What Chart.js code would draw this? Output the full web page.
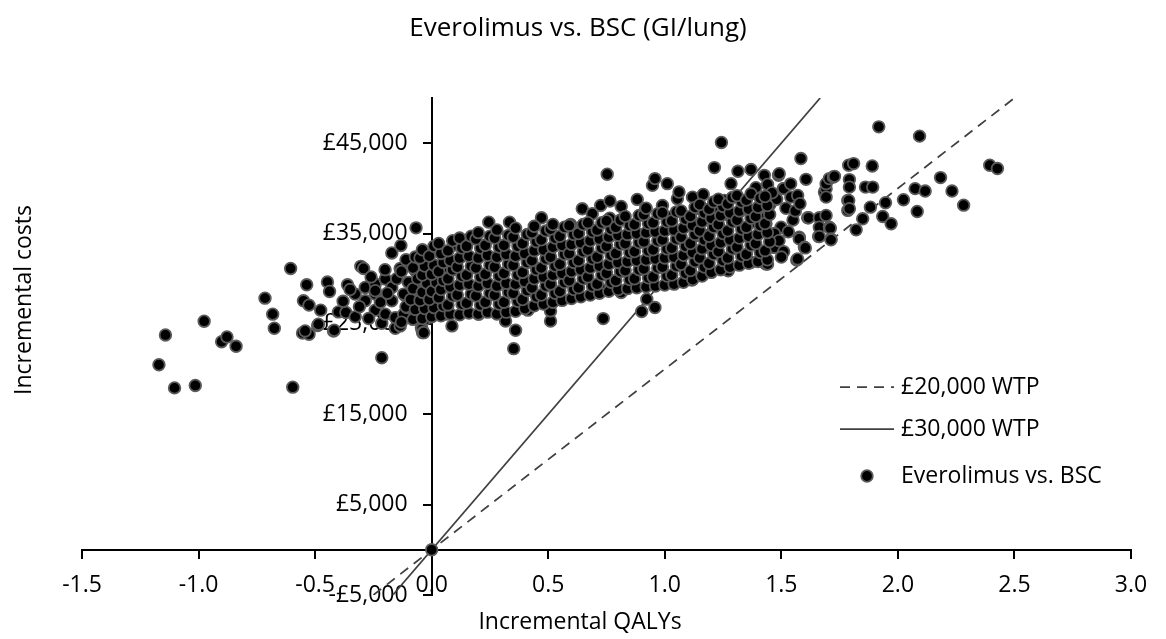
<!DOCTYPE html>
<html><head><meta charset="utf-8">
<script src="https://cdn.jsdelivr.net/npm/chart.js@4.4.1/dist/chart.umd.min.js"></script>
<style>html,body{margin:0;padding:0;background:#fff}#wrap{width:1166px;height:639px}</style>
</head><body><div id="wrap"><canvas id="c" width="1166" height="639"></canvas></div>
<script>
const chartTitle = 'Everolimus vs. BSC (GI/lung)';
const xAxisTitle = 'Incremental QALYs';
const yAxisTitle = 'Incremental costs';
const seriesLabels = ['£20,000 WTP', '£30,000 WTP', 'Everolimus vs. BSC'];
const xTicks = [-1.5, -1.0, -0.5, 0.0, 0.5, 1.0, 1.5, 2.0, 2.5, 3.0];
const yTicks = [-5000, 5000, 15000, 25000, 35000, 45000];
const wtp20Qalys = [-0.25, 2.5];
const wtp20Costs = [-5000, 50000];
const wtp30Qalys = [-0.1667, 1.6667];
const wtp30Costs = [-5000, 50000];

const qalys = [
0, -1.170, -1.142, -1.103, -1.014, -0.976, -0.901, -0.878, -0.839, -0.715, -0.682, -0.675, -0.605, -0.596,
-0.550, -0.536, -0.526, -0.554, -0.526, -0.543, -0.489, -0.486, -0.476, -0.447, -0.438, -0.421, -0.418, -0.400,
-0.368, -0.361, -0.328, -0.328, -0.304, -0.292, -0.285, -0.285, -0.242, -0.242, -0.242, -0.242, -0.214, -0.214,
-0.199, -0.199, -0.171, -0.171, -0.171, -0.156, -0.156, -0.135, -0.135, -0.132, -0.120, -0.113, -0.106, -0.085,
-0.070, -0.067, -0.063, -0.056, -0.044, -0.042, -0.039, -0.034, -0.027, -0.027, -0.027, 0.023, 0.030, 0.052,
0.059, 0.087, 0.098, -0.38, -0.35, -0.31, -0.27, -0.22, -0.19, -0.26, -0.20, -0.15, -0.10,
0.188, 0.245, 0.334, 0.471, 0.596, 0.646, 0.689, 0.725, 0.753, 0.764, 0.765, 0.813, 0.825, 0.882,
0.918, 0.947, 0.958, 0.990, 1.011, 1.018, 1.054, 1.061, 1.090, 1.119, 1.147, 1.165, 1.212, 1.213,
1.243, 1.255, 1.276, 1.284, 1.314, 1.319, 1.333, 1.370, 1.376, 1.391, 1.427, 1.427, 1.434,
0.202, 0.317, 0.352, 0.360, 0.413, 0.510, 0.510, 0.725, 0.736, 0.813, 0.901, 0.923, 0.958, 1.011,
1.116, 1.272, 1.370, 1.434, 1.441,
1.434, 1.441, 1.451, 1.462, 1.470, 1.488, 1.491, 1.499, 1.508, 1.510, 1.541, 1.566, 1.570, 1.570,
1.577, 1.577, 1.584, 1.599, 1.603, 1.606, 1.613, 1.617, 1.660, 1.663, 1.663, 1.663, 1.685, 1.692,
1.692, 1.692, 1.692, 1.706, 1.706, 1.710, 1.713, 1.713, 1.723, 1.728, 1.785, 1.785, 1.789, 1.789,
1.792, 1.792, 1.792, 1.810, 1.821, 1.849, 1.861, 1.882, 1.890, 1.892, 1.918, 1.935, 1.947, 1.971,
2.024, 2.074, 2.083, 2.093, 2.117, 2.183, 2.232, 2.282, 2.394, 2.427,
1.47, 1.49, 1.52, 1.55, 1.53, 1.48, 1.51, 1.56, 1.46, 1.58, 1.54, 1.50,
-0.13, -0.11, -0.12, -0.10, -0.13, -0.11,
-0.08, -0.07, -0.09, -0.08, -0.06, -0.08, -0.07,
-0.04, -0.03, -0.05, -0.04, -0.02, -0.04, -0.03, -0.05, -0.04,
0.00, 0.01, -0.01, 0.00, 0.02, 0.00, 0.01, -0.01, 0.01,
0.04, 0.05, 0.03, 0.04, 0.05, 0.03, 0.05, 0.04, 0.03,
0.08, 0.07, 0.09, 0.08, 0.07, 0.09, 0.08, 0.07, 0.09,
0.12, 0.13, 0.11, 0.12, 0.13, 0.11, 0.12, 0.13, 0.12,
0.16, 0.15, 0.17, 0.16, 0.15, 0.17, 0.16, 0.15, 0.17,
0.20, 0.21, 0.19, 0.20, 0.21, 0.19, 0.20, 0.21, 0.19, 0.20,
0.24, 0.23, 0.25, 0.24, 0.23, 0.25, 0.24, 0.23, 0.25,
0.28, 0.29, 0.27, 0.28, 0.29, 0.27, 0.28, 0.29, 0.27, 0.28,
0.32, 0.31, 0.33, 0.32, 0.31, 0.33, 0.32, 0.31, 0.33,
0.36, 0.37, 0.35, 0.36, 0.37, 0.35, 0.36, 0.37, 0.35, 0.36,
0.40, 0.39, 0.41, 0.40, 0.39, 0.41, 0.40, 0.39, 0.41,
0.44, 0.45, 0.43, 0.44, 0.45, 0.43, 0.44, 0.45, 0.43, 0.44,
0.48, 0.47, 0.49, 0.48, 0.47, 0.49, 0.48, 0.47, 0.49,
0.52, 0.53, 0.51, 0.52, 0.53, 0.51, 0.52, 0.53, 0.51, 0.52,
0.56, 0.55, 0.57, 0.56, 0.55, 0.57, 0.56, 0.55, 0.57,
0.60, 0.61, 0.59, 0.60, 0.61, 0.59, 0.60, 0.61, 0.59,
0.64, 0.63, 0.65, 0.64, 0.63, 0.65, 0.64, 0.63, 0.65,
0.68, 0.69, 0.67, 0.68, 0.69, 0.67, 0.68, 0.69, 0.67,
0.72, 0.71, 0.73, 0.72, 0.71, 0.73, 0.72, 0.71, 0.73,
0.76, 0.77, 0.75, 0.76, 0.77, 0.75, 0.76, 0.77, 0.75,
0.80, 0.79, 0.81, 0.80, 0.79, 0.81, 0.80, 0.79, 0.81,
0.84, 0.85, 0.83, 0.84, 0.85, 0.83, 0.84, 0.85, 0.83,
0.88, 0.87, 0.89, 0.88, 0.87, 0.89, 0.88, 0.87, 0.89,
0.92, 0.93, 0.91, 0.92, 0.93, 0.91, 0.92, 0.93, 0.91, 0.92,
0.96, 0.95, 0.97, 0.96, 0.95, 0.97, 0.96, 0.95, 0.97,
1.00, 1.01, 0.99, 1.00, 1.01, 0.99, 1.00, 1.01, 0.99,
1.04, 1.03, 1.05, 1.04, 1.03, 1.05, 1.04, 1.03, 1.05,
1.08, 1.09, 1.07, 1.08, 1.09, 1.07, 1.08, 1.09, 1.07,
1.12, 1.11, 1.13, 1.12, 1.11, 1.13, 1.12, 1.11, 1.13,
1.16, 1.17, 1.15, 1.16, 1.17, 1.15, 1.16, 1.17, 1.15,
1.20, 1.19, 1.21, 1.20, 1.19, 1.21, 1.20, 1.19, 1.21,
1.24, 1.25, 1.23, 1.24, 1.25, 1.23, 1.24, 1.25, 1.23,
1.28, 1.27, 1.29, 1.28, 1.27, 1.29, 1.28, 1.27, 1.29,
1.32, 1.33, 1.31, 1.32, 1.33, 1.31, 1.32, 1.33, 1.31,
1.36, 1.35, 1.37, 1.36, 1.35, 1.37, 1.36, 1.35, 1.37,
1.40, 1.41, 1.39, 1.40, 1.41, 1.39, 1.40, 1.41,
1.44, 1.43, 1.45, 1.44, 1.43, 1.45, 1.44, 1.43
];

const costs = [
0, 20480, 23780, 17920, 18190, 25300, 23030, 23560, 22520, 27850, 26080, 24520, 31140, 18000,
27560, 29330, 27080, 24000, 23860, 24220, 24810, 24970, 26520, 29630, 28590, 24220, 24300, 26330,
26260, 29330, 25780, 28300, 31370, 31140, 29030, 27560, 26520, 29410, 28300, 28670, 25080, 21260,
29970, 26080, 32850, 29030, 27560, 24520, 25700, 31140, 24780, 33670, 26080, 28110, 26810, 26810,
30890, 35630, 27190, 28670, 24590, 24410, 24030, 24030, 25560, 30520, 25520, 33190, 33110, 31260,
26080, 24780, 33740, 27500, 28800, 26900, 25600, 27400, 28400, 30200, 31000, 30000, 31800,
34440, 36260, 36260, 36740, 36000, 37740, 37190, 38110, 41560, 36700, 38590, 38000, 36670, 38780,
37740, 40330, 41080, 38110, 40520, 36810, 38850, 39590, 36810, 39030, 37740, 39330, 37740, 42300,
45080, 38670, 37000, 40520, 41890, 37370, 38670, 42080, 36260, 40080, 41440, 38300, 36810,
26080, 25330, 22260, 24300, 26520, 25330, 26440, 28860, 25590, 28480, 26370, 27740, 26810, 29590,
29850, 30890, 31810, 31630, 31630,
36080, 40440, 38220, 33480, 33480, 41440, 41630, 35700, 39970, 39970, 39030, 32080, 39220, 32190,
34590, 34410, 43300, 33480, 33410, 41000, 36740, 36740, 34670, 36740, 35700, 34670, 39590, 39970,
39030, 40520, 37000, 41080, 35700, 35590, 34410, 34300, 41260, 41330, 38670, 37560, 42560, 38670,
40970, 40140, 37740, 42740, 35410, 36630, 40140, 37920, 42480, 40140, 46810, 36890, 38410, 36080,
38740, 39970, 37440, 45780, 39700, 41190, 39700, 38140, 42560, 42190,
35000, 34200, 37800, 36500, 35200, 38800, 33000, 37500, 39500, 38300, 40500, 32400,
25200, 26900, 28300, 29600, 30800, 32100,
25500, 26600, 27700, 28900, 30000, 31200, 32400,
25600, 26700, 27600, 28500, 29500, 30400, 31400, 32300, 33200,
25800, 26800, 27700, 28600, 29600, 30500, 31500, 32500, 33600,
25900, 27000, 27900, 28800, 29800, 30800, 31800, 32800, 33900,
26100, 27100, 28100, 29100, 30000, 31000, 32000, 33100, 34200,
26000, 27200, 28200, 29300, 30300, 31300, 32300, 33400, 34500,
26200, 27300, 28300, 29400, 30400, 31400, 32500, 33600, 34700,
26100, 27100, 28100, 29200, 30200, 31200, 32300, 33400, 34400, 35100,
26300, 27400, 28400, 29500, 30500, 31500, 32600, 33700, 34700,
26100, 27200, 28200, 29200, 30300, 31300, 32400, 33500, 34500, 35400,
26300, 27400, 28500, 29500, 30600, 31600, 32700, 33700, 34800,
26400, 27500, 28400, 29400, 30400, 31500, 32500, 33600, 34600, 35600,
26700, 27700, 28700, 29700, 30700, 31800, 32800, 33900, 34900,
27000, 28000, 29000, 30000, 31000, 32000, 33100, 34100, 35100, 35800,
27200, 28200, 29200, 30200, 31200, 32200, 33200, 34300, 35300,
27400, 28400, 29400, 30400, 31400, 32400, 33500, 34500, 35500, 36000,
27600, 28600, 29600, 30600, 31600, 32700, 33700, 34700, 35700,
27800, 28800, 29800, 30800, 31800, 32800, 33800, 34900, 35900,
28000, 29000, 30000, 31000, 32000, 33000, 34000, 35000, 36000,
28200, 29200, 30200, 31200, 32200, 33200, 34200, 35200, 36200,
28400, 29400, 30400, 31400, 32400, 33400, 34400, 35400, 36200,
28600, 29600, 30600, 31600, 32600, 33600, 34600, 35500, 36400,
28800, 29800, 30800, 31800, 32800, 33800, 34800, 35700, 36500,
28900, 29900, 30900, 31900, 32900, 33900, 34900, 35900, 36900,
29000, 30000, 31000, 32000, 33000, 34000, 35000, 36000, 37000,
29100, 30100, 31100, 32100, 33100, 34100, 35100, 36100, 37100, 37800,
29200, 30200, 31200, 32200, 33200, 34200, 35200, 36200, 37200,
29300, 30300, 31300, 32300, 33300, 34300, 35300, 36300, 37300,
29400, 30400, 31400, 32400, 33400, 34400, 35400, 36400, 37400,
29600, 30600, 31600, 32600, 33600, 34600, 35600, 36600, 37500,
29900, 30900, 31900, 32900, 33900, 34900, 35900, 36900, 37900,
30300, 31300, 32300, 33300, 34300, 35300, 36300, 37300, 38200,
30700, 31700, 32700, 33700, 34700, 35700, 36700, 37700, 38500,
31000, 32000, 33000, 34000, 35000, 36000, 37000, 38000, 38800,
31300, 32300, 33300, 34300, 35300, 36300, 37300, 38300, 39000,
31500, 32500, 33500, 34500, 35500, 36500, 37500, 38500, 39200,
31700, 32700, 33700, 34700, 35700, 36700, 37700, 38700, 39400,
31900, 32900, 33900, 34900, 35900, 36900, 37900, 38900,
32100, 33100, 34100, 35100, 36100, 37100, 38100, 39100
];

const FONT = '"Open Sans"';
const TEXT = '#000000';
const LINE_COLOR = '#404040';
const PT_FILL = '#000000';
const PT_EDGE = '#5a5a5a';

const toPoints = (xs, ys) => xs.map((v, i) => ({x: v, y: ys[i]})).filter(p => p.y !== undefined);
const fmtCost = v => (v < 0 ? '-' : '') + '£' + Math.abs(v).toLocaleString('en-GB');

const extras = {
  id: 'extras',
  beforeDraw(chart) {
    // move y tick labels off the axis line (left of the tick marks)
    chart.scales.y.getLabelItems().forEach(it => {
      if (!it._moved) { it.options.translation[0] -= 24; it._moved = true; }
    });
  },
  afterDraw(chart) {
    const ctx = chart.ctx;
    ctx.save();
    ctx.fillStyle = TEXT;
    ctx.textBaseline = 'middle';
    ctx.textAlign = 'center';
    ctx.font = '26px ' + FONT;
    ctx.fillText(chartTitle, 578, 29);
    ctx.font = '23px ' + FONT;
    ctx.fillText(xAxisTitle, 580, 622);
    ctx.save();
    ctx.translate(24, 300);
    ctx.rotate(-Math.PI / 2);
    ctx.fillText(yAxisTitle, 0, 0);
    ctx.restore();
    // legend
    const items = [
      {y: 387, kind: 'dash'},
      {y: 429, kind: 'solid'},
      {y: 476, kind: 'point'}
    ];
    items.forEach((it, i) => {
      if (it.kind === 'point') {
        ctx.beginPath();
        ctx.arc(867, it.y, 5.8, 0, Math.PI * 2);
        ctx.fillStyle = PT_FILL;
        ctx.fill();
        ctx.lineWidth = 1.8;
        ctx.strokeStyle = PT_EDGE;
        ctx.stroke();
      } else {
        ctx.beginPath();
        ctx.setLineDash(it.kind === 'dash' ? [10, 7] : []);
        ctx.lineWidth = 1.75;
        ctx.strokeStyle = LINE_COLOR;
        ctx.moveTo(840, it.y);
        ctx.lineTo(894, it.y);
        ctx.stroke();
        ctx.setLineDash([]);
      }
      ctx.fillStyle = TEXT;
      ctx.textAlign = 'left';
      ctx.fillText(seriesLabels[i], 901, it.y);
    });
    ctx.restore();
  }
};

const zeroPad = s => { s.paddingLeft = 0; s.paddingRight = 0; s.paddingTop = 0; s.paddingBottom = 0; };

new Chart(document.getElementById('c'), {
  type: 'scatter',
  data: {
    datasets: [
      {
        label: seriesLabels[2],
        data: toPoints(qalys, costs),
        backgroundColor: PT_FILL,
        borderColor: PT_EDGE,
        borderWidth: 1.8,
        pointRadius: 5.8,
        pointHoverRadius: 5.8
      },
      {
        label: seriesLabels[0],
        data: toPoints(wtp20Qalys, wtp20Costs),
        showLine: true,
        borderColor: LINE_COLOR,
        borderWidth: 1.75,
        borderDash: [10, 7],
        pointRadius: 0,
        fill: false
      },
      {
        label: seriesLabels[1],
        data: toPoints(wtp30Qalys, wtp30Costs),
        showLine: true,
        borderColor: LINE_COLOR,
        borderWidth: 1.75,
        pointRadius: 0,
        fill: false
      }
    ]
  },
  options: {
    responsive: false,
    animation: false,
    devicePixelRatio: 1,
    events: [],
    layout: {padding: {left: 82, right: 35, top: 98, bottom: 44}},
    plugins: {
      legend: {display: false},
      tooltip: {enabled: false},
      title: {display: false}
    },
    scales: {
      x: {
        type: 'linear',
        min: -1.5,
        max: 3.0,
        position: {y: 0},
        afterBuildTicks: s => { s.ticks = xTicks.map(v => ({value: v})); },
        afterFit: zeroPad,
        ticks: {
          callback: v => Number(v).toFixed(1),
          font: {family: FONT, size: 23},
          color: TEXT,
          padding: 14,
          maxRotation: 0,
          autoSkip: false
        },
        grid: {drawOnChartArea: false, drawTicks: true, tickLength: 8, color: '#000', lineWidth: 2},
        border: {display: true, color: '#000', width: 2}
      },
      y: {
        type: 'linear',
        min: -5000,
        max: 50000,
        position: {x: 0},
        afterBuildTicks: s => { s.ticks = yTicks.map(v => ({value: v})); },
        afterFit: zeroPad,
        ticks: {
          callback: v => fmtCost(v),
          font: {family: FONT, size: 23},
          color: TEXT,
          padding: 15,
          autoSkip: false
        },
        grid: {drawOnChartArea: false, drawTicks: true, tickLength: 8, color: '#000', lineWidth: 2},
        border: {display: true, color: '#000', width: 2}
      }
    }
  },
  plugins: [extras]
});
</script>
</body></html>
